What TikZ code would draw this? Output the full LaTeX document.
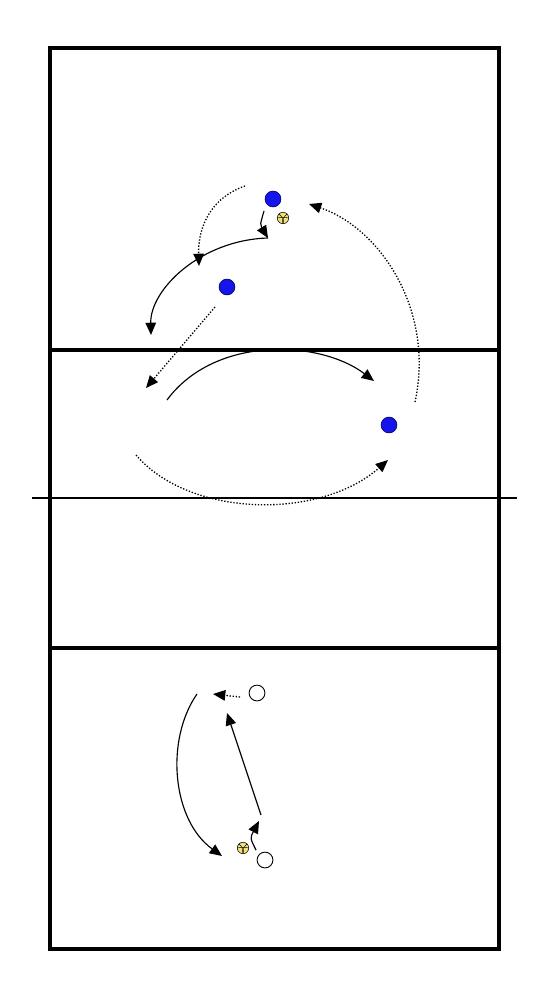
\documentclass[tikz,border=0pt]{standalone}
\usetikzlibrary{arrows.meta,calc}
\definecolor{pblue}{RGB}{20,20,235}
\definecolor{pdblue}{RGB}{10,10,120}
\definecolor{ballyel}{RGB}{240,226,120}
\tikzset{
  court/.style={line width=2.2pt},
  pass/.style={line width=0.65pt,-{Triangle[length=7pt,width=6pt]}},
  run/.style={line width=0.75pt,densely dotted,-{Triangle[length=7pt,width=6pt]}},
  blueplayer/.style={circle,draw=pdblue,fill=pblue,line width=0.4pt,minimum size=9pt,inner sep=0pt},
  whiteplayer/.style={circle,draw=black,fill=white,line width=0.5pt,minimum size=9pt,inner sep=0pt},
  ball/.style={circle,draw=black,fill=ballyel,line width=0.3pt,minimum size=6.5pt,inner sep=0pt}
}
\begin{document}
\begin{tikzpicture}[x=0.02cm,y=-0.02cm]
\useasboundingbox (0,0) rectangle (550,1000);
% court
\draw[court] (50,48) rectangle (499,949);
\draw[court] (50,350) -- (499,350);
\draw[court] (50,648) -- (499,648);
\draw[line width=1.4pt] (32,498) -- (517,498);
% players
\node[blueplayer] (b1) at (273,199) {};
\node[blueplayer] (b2) at (227,287) {};
\node[blueplayer] (b3) at (389,425) {};
\node[whiteplayer] (w1) at (257,693) {};
\node[whiteplayer] (w2) at (265,860) {};
\node[ball] (ball1) at (283,218) {};
\node[ball] (ball2) at (243,848) {};
\foreach \b in {ball1,ball2}{
  \draw[line width=0.25pt] (\b.north west) .. controls ($(\b.center)+(1,1)$) .. (\b.south);
  \draw[line width=0.25pt] (\b.north east) .. controls ($(\b.center)+(-1,1)$) .. (\b.south);
  \draw[line width=0.25pt] (\b.west) .. controls ($(\b.center)+(0,-1)$) .. (\b.east);
}
% coordinates
\coordinate (r1s) at (245,186);
\coordinate (r1e) at (199,266);
\coordinate (p1s) at (264,211);
\coordinate (p1e) at (268,238);
\coordinate (p2e) at (151,335);
\coordinate (r2s) at (215,307);
\coordinate (r2e) at (146,388);
\coordinate (p3s) at (167,400);
\coordinate (p3e) at (374,381);
\coordinate (r3s) at (415,402);
\coordinate (r3e) at (309,204);
\coordinate (r4s) at (136,455);
\coordinate (r4e) at (388,460);
\coordinate (r5s) at (240,697);
\coordinate (r5e) at (213,694);
\coordinate (p4s) at (261,815);
\coordinate (p4e) at (227,713);
\coordinate (p5s) at (256,850);
\coordinate (p5e) at (259,821);
\coordinate (p6s) at (197,694);
\coordinate (p6e) at (222,856);
% top half
\draw[run] (r1s) .. controls (205,200) and (198,235) .. (r1e);
\draw[pass] (p1s) .. controls (260,225) .. (p1e);
\draw[pass] (p1e) .. controls (200,240) and (150,290) .. (p2e);
\draw[run] (r2s) -- (r2e);
\draw[pass] (p3s) .. controls (215,335) and (320,340) .. (p3e);
\draw[run] (r3s) .. controls (435,310) and (380,228) .. (r3e);
\draw[run] (r4s) .. controls (190,518) and (320,520) .. (r4e);
% bottom half
\draw[run] (r5s) -- (r5e);
\draw[pass] (p4s) -- (p4e);
\draw[pass] (p5s) .. controls (250,838) .. (p5e);
\draw[pass] (p6s) .. controls (165,740) and (172,820) .. (p6e);
\end{tikzpicture}
\end{document}
